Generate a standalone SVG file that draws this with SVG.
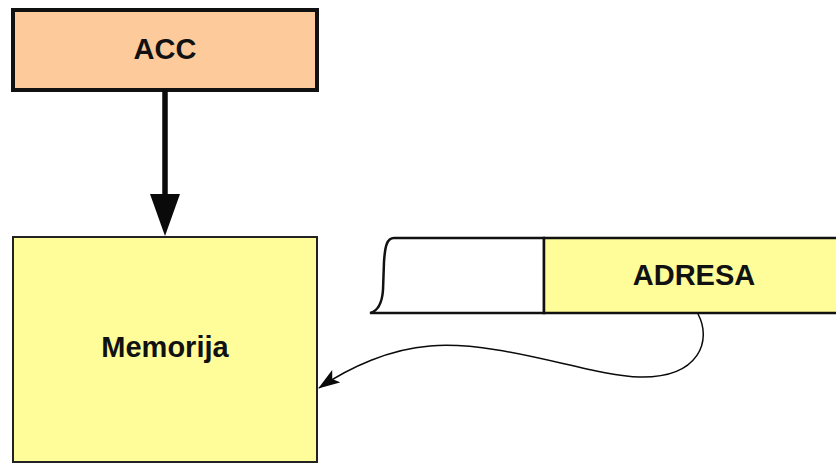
<svg xmlns="http://www.w3.org/2000/svg" width="836" height="465" viewBox="0 0 836 465">
  <style>
    .lbl { font-family: "Liberation Sans", Arial, sans-serif; font-weight: bold; font-size: 29px; fill: #111; text-anchor: middle; }
    .edge { stroke: #0a0a0a; fill: none; }
  </style>
  <defs>
    <marker id="tipSmall" viewBox="0 0 22 15" refX="21" refY="7.5" markerWidth="22" markerHeight="15" markerUnits="userSpaceOnUse" orient="auto">
      <path d="M0,0 L22,7.5 L0,15 L5,7.5 Z" fill="#0a0a0a"/>
    </marker>
  </defs>
  <rect width="836" height="465" fill="#fff"/>

  <g id="acc">
    <rect x="13" y="10" width="304" height="80" fill="#FDCB9B" stroke="#111" stroke-width="4"/>
    <text class="lbl" x="165" y="59">ACC</text>
  </g>

  <g id="memorija">
    <rect x="13" y="237" width="304" height="225" fill="#FEFD99" stroke="#222" stroke-width="2"/>
    <text class="lbl" x="165" y="357">Memorija</text>
  </g>

  <g id="adresa">
    <!-- white leading part of the instruction word, torn left edge -->
    <path d="M394,238 L544,238 L544,313 L370,313 C378,311 382,304 383,290 L384,262 C385,246 387,238 394,238 Z" fill="#fff" stroke="#111" stroke-width="2.5"/>
    <!-- address field -->
    <path d="M544,238 L840,238 L840,313 L544,313 Z" fill="#FEFD99" stroke="#111" stroke-width="2.5"/>
    <text class="lbl" x="694" y="285">ADRESA</text>
  </g>

  <g id="connectors">
    <!-- ACC to memory, thick arrow -->
    <line class="edge" x1="165" y1="90" x2="165" y2="200" stroke-width="5.5"/>
    <path d="M150,194 L180,194 L165,236 Z" fill="#0a0a0a"/>
    <!-- address field selects a memory location -->
    <path class="edge" stroke-width="1.5" marker-end="url(#tipSmall)" d="M698,314 C712,340 700,378 640,377 C590,376 500,340 430,346 C390,349 350,367 319,388"/>
  </g>
</svg>
